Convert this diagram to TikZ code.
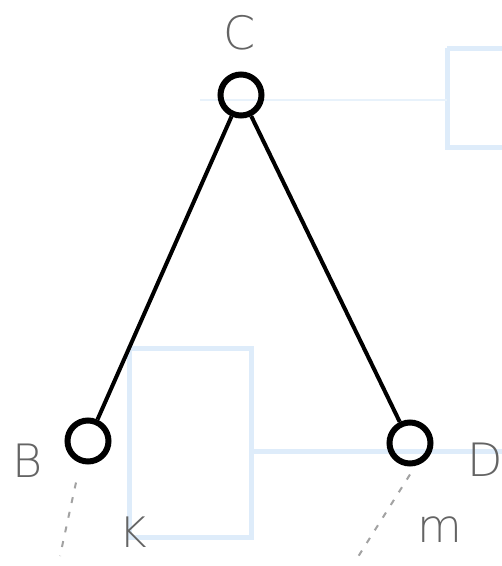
\documentclass[tikz,border=0pt]{standalone}
\usepackage{fontspec}
\setmainfont{DejaVu Sans}
\newfontface\ExtraLightFont{DejaVu Sans ExtraLight}
\definecolor{paleblue}{RGB}{222,236,250}
\definecolor{inkgray}{RGB}{100,100,100}
\begin{document}
\begin{tikzpicture}[x=1pt,y=-1pt,
  vertex/.style={circle,draw=black,line width=6pt,minimum size=41pt,inner sep=0pt},
  edge/.style={draw=black,line width=4pt},
  guide/.style={draw=paleblue,line width=5pt},
  faint/.style={draw=inkgray!60,line width=2pt,dash pattern=on 6pt off 9pt},
  lbl/.style={text=inkgray,font=\fontsize{46}{46}\selectfont\ExtraLightFont,inner sep=0pt}]
\useasboundingbox (0,0) rectangle (502,566);
\fill[white] (0,0) rectangle (502,566);
% pale background sketch
\draw[guide] (129,348) rectangle (251,537);
\draw[guide] (251,451) -- (502,451);
\draw[guide] (447,48) -- (447,147) -- (510,147);
\draw[guide] (447,48) -- (510,48);
\draw[draw=paleblue!70,line width=2pt] (200,100) -- (447,100);
% vertices
\node[vertex] (C) at (241,95) {};
\node[vertex] (B) at (88,441) {};
\node[vertex] (D) at (410,443) {};
\draw[edge] (C) -- (B);
\draw[edge] (C) -- (D);
% labels
\node[lbl] (lC) at (240,33) {C};
\node[lbl] (lB) at (28,461) {B};
\node[lbl] (lD) at (485,460) {D};
\node[lbl,font=\fontsize{42}{42}\selectfont\ExtraLightFont] (lK) at (133,532) {K};
\node[lbl] (lm) at (440,530) {m};
% faint dashed strokes
\coordinate (bEnd) at (60,556);
\coordinate (dEnd) at (356,560);
\draw[faint] (B.south) ++(-12,18) -- (bEnd);
\draw[faint] (D.south) ++(0,8) -- (dEnd);
\end{tikzpicture}
\end{document}
